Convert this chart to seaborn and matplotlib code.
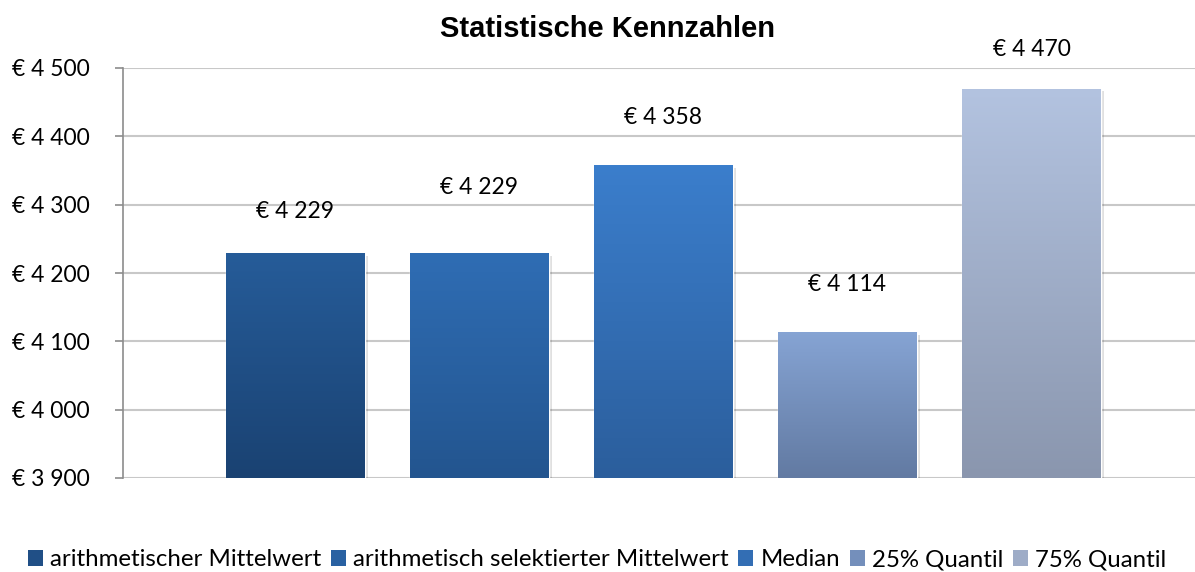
import numpy as np
import matplotlib
matplotlib.use("Agg")
import matplotlib.pyplot as plt
import matplotlib.colors as mcolors
import matplotlib.patheffects as pe
from matplotlib.patches import Patch
import seaborn as sns

# Kennzahlen (EUR)
series = ["arithmetischer Mittelwert", "arithmetisch selektierter Mittelwert",
          "Median", "25% Quantil", "75% Quantil"]
values = [4229, 4229, 4358, 4114, 4470]
value_labels = ["€ 4 229", "€ 4 229", "€ 4 358", "€ 4 114", "€ 4 470"]
y_ticks = [3900, 4000, 4100, 4200, 4300, 4400, 4500]
y_tick_labels = ["€ 3 900", "€ 4 000", "€ 4 100", "€ 4 200", "€ 4 300", "€ 4 400", "€ 4 500"]

# gradient colours (top, bottom) per series
top_colors = ["#265c99", "#2f6db4", "#3b7ecc", "#86a4d4", "#b3c3e0"]
bottom_colors = ["#1a4272", "#23558f", "#2b5e9c", "#627aa2", "#8a96ae"]
label_offsets = [30, 47, 34, 34, 28]  # points above bar top

sns.set_theme(style="white")
plt.rcParams["font.family"] = ["Lato", "DejaVu Sans"]
plt.rcParams["text.color"] = "#000000"

fig = plt.figure(figsize=(11.95, 5.72), dpi=100)
ax = fig.add_axes([123 / 1195, 1 - 478 / 572, 1 - 123 / 1195, (478 - 68) / 572])

legend_colors = [mcolors.to_hex(0.5 * np.array(mcolors.to_rgb(t)) + 0.5 * np.array(mcolors.to_rgb(b)))
                 for t, b in zip(top_colors, bottom_colors)]

sns.barplot(x=series, y=values, hue=series, palette=legend_colors, width=0.755,
            legend=False, ax=ax, zorder=3)

# gradient fill, clipped to each bar
for i, bar in enumerate(ax.patches):
    x0 = bar.get_x()
    w = bar.get_width()
    top = bar.get_height()
    c_top = np.array(mcolors.to_rgb(top_colors[i]))
    c_bot = np.array(mcolors.to_rgb(bottom_colors[i]))
    t = np.linspace(0, 1, 256)[:, None]
    grad = (c_top[None, :] * (1 - t) + c_bot[None, :] * t)[:, None, :]
    bar.set_path_effects([pe.SimplePatchShadow(offset=(2, -2), shadow_rgbFace="#000000", alpha=0.12),
                          pe.Normal()])
    im = ax.imshow(grad, extent=[x0, x0 + w, 3900, top], aspect="auto",
                   origin="upper", zorder=4, interpolation="bilinear")
    im.set_clip_path(bar)
    ax.annotate(value_labels[i], xy=(x0 + w / 2, top), xytext=(0, label_offsets[i]),
                textcoords="offset points", ha="center", va="center",
                fontsize=16.5, color="#000000", zorder=5)

ax.set_xlim(-0.9375, 4.8886)
ax.set_ylim(3900, 4500)
ax.set_aspect("auto")

ax.set_yticks(y_ticks)
ax.set_yticklabels(y_tick_labels, fontsize=16.5, color="#000000")
ax.set_xticks([])
ax.set_xlabel("")
ax.set_ylabel("")
ax.grid(axis="y", color="#c8c8c8", linewidth=1.5, zorder=0)
ax.set_axisbelow(True)
for s in ["top", "right", "bottom"]:
    ax.spines[s].set_visible(False)
ax.spines["left"].set_color("#8c8c8c")
ax.spines["left"].set_linewidth(1.2)
ax.tick_params(axis="y", which="major", left=True, length=5.5, width=1.2,
               color="#8c8c8c", pad=74.4)
for lbl in ax.get_yticklabels():
    lbl.set_horizontalalignment("left")

fig.text(608 / 1195, 1 - 29 / 572, "Statistische Kennzahlen", ha="center", va="center",
         fontsize=21, fontweight="bold", color="#000000",
         family=["Liberation Sans", "DejaVu Sans"])

handles = [Patch(facecolor=c, edgecolor="none") for c in legend_colors]
fig.legend(handles, series, loc="center left", bbox_to_anchor=(28 / 1195, 1 - 560 / 572),
           ncol=5, frameon=False, fontsize=17.3, handlelength=0.62, handleheight=0.62,
           handletextpad=0.3, columnspacing=0.4, borderaxespad=0, borderpad=0)

fig.savefig("out.png", dpi=100)
